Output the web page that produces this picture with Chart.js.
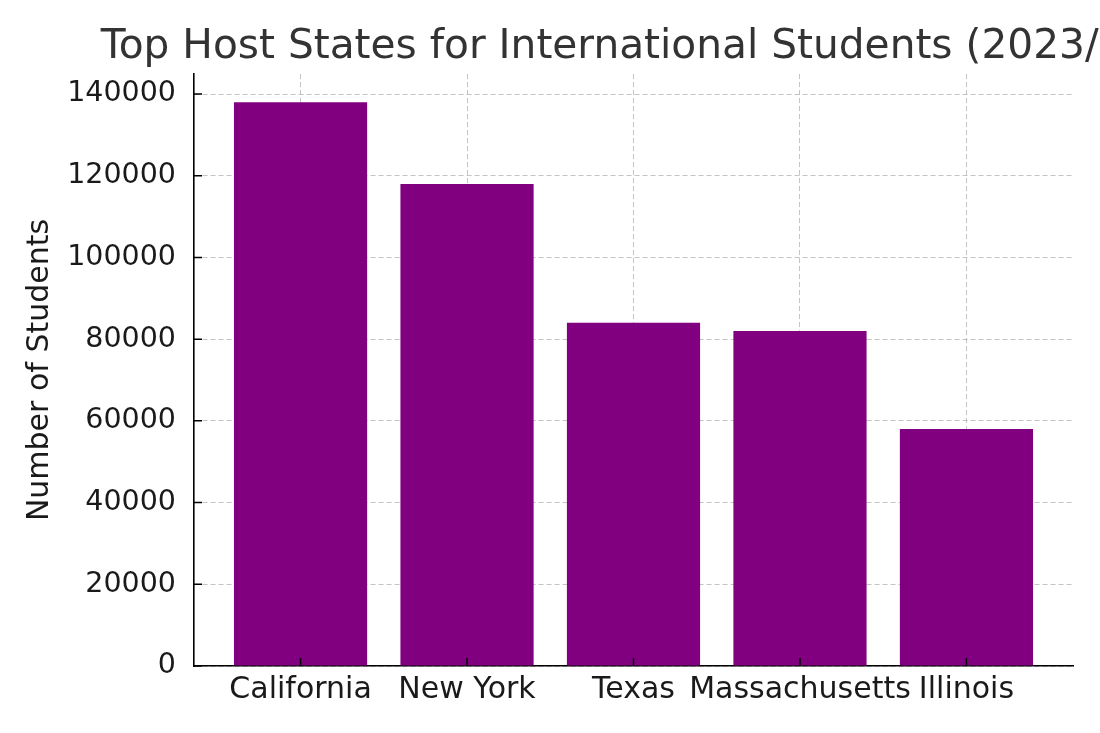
<!DOCTYPE html>
<html>
<head>
<meta charset="utf-8">
<script src="https://cdn.jsdelivr.net/npm/chart.js@4"></script>
<style>
html,body{margin:0;padding:0;background:#fff;overflow:hidden}
#wrap{width:1100px;height:733px;position:relative}
</style>
</head>
<body>
<div id="wrap"><canvas id="grafico" width="1100" height="733"></canvas></div>
<script>
const titulo='Top Host States for International Students (2023/24)';
const estados=['California','New York','Texas','Massachusetts','Illinois'];
const alunos=[138000,118000,84000,82000,58000];
const yTicks=[0,20000,40000,60000,80000,100000,120000,140000];

const fonte='"DejaVu Sans", sans-serif';
const grade={color:'rgba(176,176,176,0.75)',lineWidth:1,drawTicks:false,offset:false};

// title centred on the plot area, allowed to run past the edge like the original
const tituloPlugin={
 id:'tituloPlugin',
 afterDraw(c){
  const ctx=c.ctx,a=c.chartArea;
  ctx.save();
  ctx.font='40.7px '+fonte;
  ctx.fillStyle='#333333';
  ctx.textAlign='center';
  ctx.textBaseline='alphabetic';
  ctx.fillText(titulo,(a.left+a.right)/2,58);
  ctx.restore();
 }
};

// inward tick marks
const marcas={
 id:'marcas',
 afterDraw(c){
  const ctx=c.ctx,a=c.chartArea,x=c.scales.x,y=c.scales.y;
  ctx.save();
  ctx.strokeStyle='#000';
  ctx.lineWidth=1.5;
  ctx.beginPath();
  y.ticks.forEach(t=>{const p=y.getPixelForValue(t.value);ctx.moveTo(a.left,p);ctx.lineTo(a.left+8,p);});
  x.ticks.forEach(t=>{const p=x.getPixelForValue(t.value);ctx.moveTo(p,a.bottom);ctx.lineTo(p,a.bottom-8);});
  ctx.stroke();
  ctx.restore();
 }
};

new Chart(document.getElementById('grafico'),{
 type:'bar',
 data:{datasets:[{
  data:estados.map((e,i)=>({x:i,y:alunos[i]})),
  backgroundColor:'#800080',
  barPercentage:0.8,
  categoryPercentage:1
 }]},
 options:{
  responsive:false,
  animation:false,
  layout:{padding:{top:74,right:27,left:0,bottom:0}},
  plugins:{legend:{display:false},tooltip:{enabled:false}},
  scales:{
   x:{
    type:'linear',
    offset:false,
    min:-0.64,max:4.64,
    z:1,
    grid:{...grade},
    border:{display:true,color:'#000',width:1.6,dash:[5,3]},
    afterBuildTicks(s){s.ticks=estados.map((e,i)=>({value:i}));},
    afterFit(s){s.height=67;},
    ticks:{color:'#1a1a1a',font:{family:fonte,size:30},padding:6,maxRotation:0,autoSkip:false,
      callback:v=>estados[v]}
   },
   y:{
    min:0,max:144900,
    z:1,
    grid:{...grade},
    border:{display:true,color:'#000',width:1.6,dash:[5,3]},
    afterBuildTicks(s){s.ticks=yTicks.map(v=>({value:v}));},
    afterFit(s){s.width=194;},
    ticks:{color:'#1a1a1a',font:{family:fonte,size:28.5},padding:18,callback:v=>String(v)},
    title:{display:true,text:'Number of Students',color:'#1a1a1a',font:{family:fonte,size:30},padding:{top:22,bottom:0}}
   }
  }
 },
 plugins:[tituloPlugin,marcas]
});
</script>
</body>
</html>
